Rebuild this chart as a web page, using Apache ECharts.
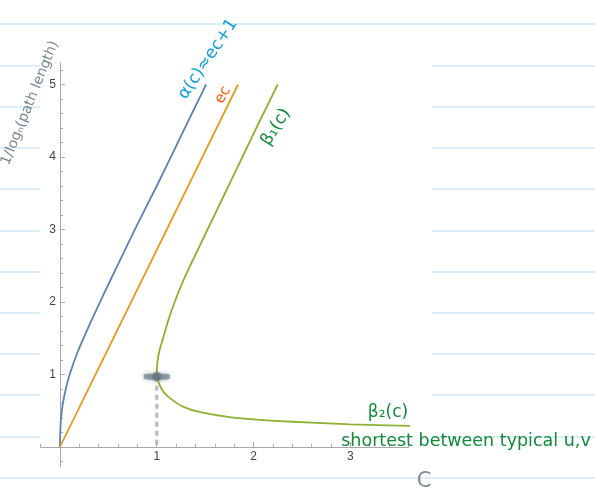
<!DOCTYPE html>
<html>
<head>
<meta charset="utf-8">
<script src="https://cdn.jsdelivr.net/npm/echarts@6/dist/echarts.min.js"></script>
<style>
html,body{margin:0;padding:0;background:#fff;}
#c{width:595px;height:491px;}
</style>
</head>
<body>
<div id="c"></div>
<script>
// ---- data ----
const alphaC = [0, 0.003, 0.01, 0.03, 0.06, 0.1, 0.18, 0.3, 0.45, 0.6, 0.8, 1.0, 1.2, 1.4, 1.51];
const alphaV = [0, 0.2, 0.38, 0.6, 0.8, 1.0, 1.3, 1.67, 2.1, 2.52, 3.07, 3.6, 4.15, 4.7, 5.0];
const ecC = [0, 1.84];
const ecV = [0, 5.0];
const beta1C = [1.0, 1.003, 1.01, 1.028, 1.065, 1.12, 1.185, 1.26, 1.345, 1.525, 1.705, 1.885, 2.065, 2.25];
const beta1V = [1.0, 1.1, 1.2, 1.33, 1.5, 1.75, 2.0, 2.25, 2.5, 3.0, 3.5, 4.0, 4.5, 5.0];
const beta2C = [1.0, 1.01, 1.03, 1.07, 1.14, 1.27, 1.45, 1.79, 2.3, 3.0, 3.84];
const beta2V = [1.0, 0.93, 0.855, 0.76, 0.67, 0.556, 0.48, 0.405, 0.355, 0.313, 0.285];
const markC = [1.0];
const markV = [0.97];
const dropC = [1.0, 1.0];
const dropV = [0.03, 0.86];
const xMajorTicks = [0, 1, 2, 3];
const xLabels = [1, 2, 3];
const yMajorTicks = [0, 1, 2, 3, 4, 5];
const yLabels = [1, 2, 3, 4, 5];
const xMinorTicks = [-0.2,0,0.2,0.4,0.6,0.8,1,1.2,1.4,1.6,1.8,2,2.2,2.4,2.6,2.8,3,3.2,3.4,3.6];
const yMinorTicks = [-0.2,0,0.2,0.4,0.6,0.8,1,1.2,1.4,1.6,1.8,2,2.2,2.4,2.6,2.8,3,3.2,3.4,3.6,3.8,4,4.2,4.4,4.6,4.8,5,5.2];

const zip = (a, b) => a.map((v, i) => [v, b[i]]);
// green curve: upper branch from the top down to the vertex, then the lower branch
const betaPath = zip(beta1C, beta1V).reverse().concat(zip(beta2C, beta2V).slice(1));

const chart = echarts.init(document.getElementById('c'), null, {renderer: 'canvas'});

// layout of the plot box
const G = {left: 40.6, top: 62.75, width: 367.8, height: 403.8};
const xMin = -0.2, xMax = 3.6, yMin = -0.27, yMax = 5.3;
// shift of the labelled axes so they sit on the zero lines
const xOff = -(G.height * (0 - yMin) / (yMax - yMin));
const yOff = -(G.width * (0 - xMin) / (xMax - xMin));

// notebook paper lines
const paper = [];
const lineYs = [24, 66, 107, 148, 189, 231, 272, 313, 354, 395, 437, 478];
lineYs.forEach(y => paper.push({type: 'line', z: -20, silent: true,
  shape: {x1: 0, y1: y, x2: 595, y2: y}, style: {stroke: '#cfe8f9', lineWidth: 1.6}}));
paper.push({type: 'rect', z: -10, silent: true, shape: {x: 40, y: 30, width: 392, height: 442},
  style: {fill: '#ffffff'}});

const hand = 'DejaVu Sans, Noto Sans, sans-serif';
function txt(t, x, y, rotDeg, size, color) {
  return {type: 'text', x: x, y: y, z: 50, rotation: rotDeg * Math.PI / 180,
    style: {text: t, fill: color, font: size + 'px ' + hand, align: 'center', verticalAlign: 'middle'}};
}
const notes = [
  txt('α(c)≈ec+1', 208, 59, 56, 17, '#0e9ee2'),
  txt('ec', 223, 95, 60, 15, '#ff5a0a'),
  txt('β₁(c)', 276, 127, 58, 17, '#128a3a'),
  txt('β₂(c)', 388, 413, 0, 17, '#128a3a'),
  txt('shortest between typical u,v', 466, 441, 0, 17.5, '#128a3a'),
  txt('C', 424, 482, 0, 21, '#7d8d95'),
  txt('1/logₙ(path length)', 30, 103, 68, 14, '#77878f')
];

const axisGrey = '#a8a8a8';
const labelFont = 'Liberation Sans, Arial, sans-serif';
const option = {
  animation: false,
  backgroundColor: 'transparent',
  grid: Object.assign({outerBoundsMode: 'none'}, G),
  xAxis: [
    {type: 'value', min: xMin, max: xMax, position: 'bottom',
     axisLine: {show: true, onZero: true, onZeroAxisIndex: 0, lineStyle: {color: axisGrey, width: 1}},
     axisTick: {show: true, inside: true, length: 3, customValues: xMinorTicks, lineStyle: {color: axisGrey}},
     axisLabel: {show: false}, splitLine: {show: false}},
    {type: 'value', min: xMin, max: xMax, position: 'bottom', offset: xOff,
     axisLine: {show: false, onZero: false},
     axisTick: {show: true, inside: true, length: 5, customValues: xMajorTicks, lineStyle: {color: axisGrey}},
     axisLabel: {show: true, customValues: xLabels, margin: 4, color: '#444', fontSize: 12, fontFamily: labelFont},
     splitLine: {show: false}}
  ],
  yAxis: [
    {type: 'value', min: yMin, max: yMax, position: 'left',
     axisLine: {show: true, onZero: true, onZeroAxisIndex: 0, lineStyle: {color: axisGrey, width: 1}},
     axisTick: {show: true, inside: true, length: 3, customValues: yMinorTicks, lineStyle: {color: axisGrey}},
     axisLabel: {show: false}, splitLine: {show: false}},
    {type: 'value', min: yMin, max: yMax, position: 'left', offset: yOff,
     axisLine: {show: false, onZero: false},
     axisTick: {show: true, inside: true, length: 5, customValues: yMajorTicks, lineStyle: {color: axisGrey}},
     axisLabel: {show: true, customValues: yLabels, margin: 4, color: '#444', fontSize: 12, fontFamily: labelFont},
     splitLine: {show: false}}
  ],
  series: [
    {name: 'drop', type: 'line', data: zip(dropC, dropV), symbol: 'none', z: 1,
     lineStyle: {color: 'rgba(165,178,186,0.75)', width: 3, type: [5, 4],
                 shadowBlur: 2, shadowColor: 'rgba(165,178,186,0.6)'}},
    {name: 'alpha', type: 'line', data: zip(alphaC, alphaV), symbol: 'none', smooth: 0.3,
     lineStyle: {color: '#5e81b5', width: 1.8}},
    {name: 'ec', type: 'line', data: zip(ecC, ecV), symbol: 'none',
     lineStyle: {color: '#e19c24', width: 1.8}},
    {name: 'beta', type: 'line', data: betaPath, symbol: 'none', smooth: 0.25, clip: false,
     lineStyle: {color: '#8fb032', width: 1.8}},
    {name: 'mark', type: 'scatter', data: zip(markC, markV), symbol: 'roundRect', symbolSize: [26, 6], z: 5,
     itemStyle: {color: 'rgba(112,128,138,0.85)', shadowBlur: 4, shadowColor: 'rgba(112,128,138,0.9)'}},
    {name: 'markdot', type: 'scatter', data: zip(markC, markV), symbol: 'circle', symbolSize: 9, z: 6,
     itemStyle: {color: 'rgba(100,116,126,0.9)', shadowBlur: 3, shadowColor: 'rgba(100,116,126,0.9)'}}
  ],
  graphic: paper.concat(notes)
};
chart.setOption(option);
</script>
</body>
</html>
